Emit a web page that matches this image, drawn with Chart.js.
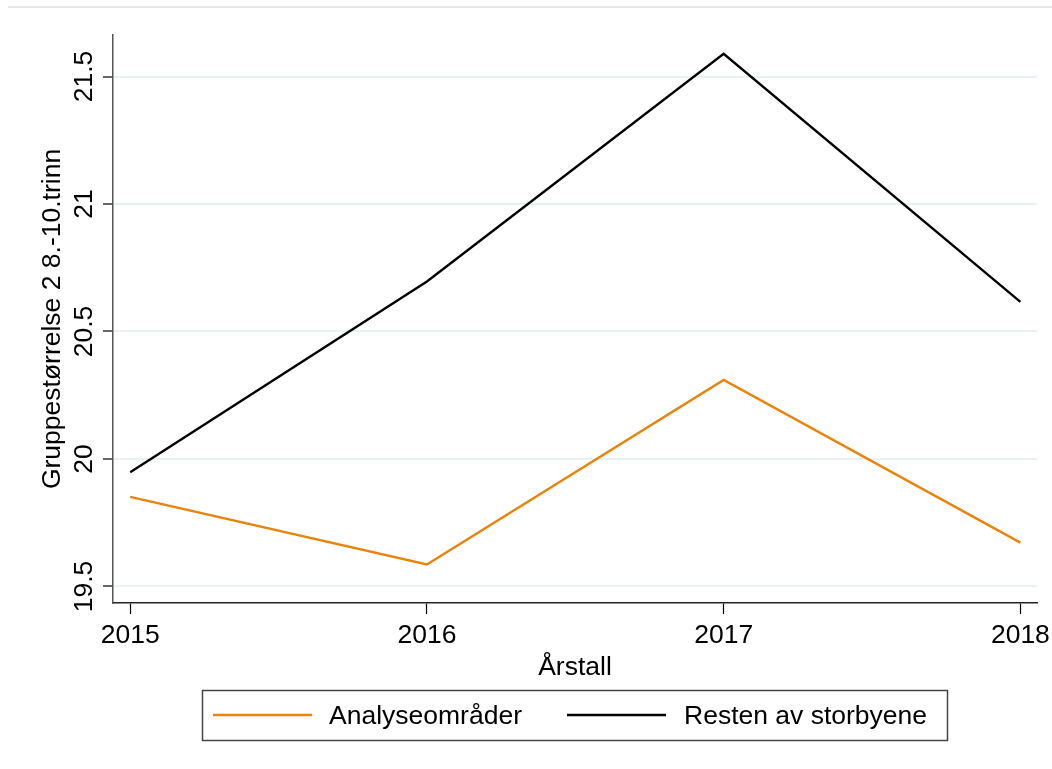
<!DOCTYPE html>
<html lang="no">
<head>
    <meta charset="UTF-8">
    <title>Gruppestørrelse 2 8.-10.trinn</title>
    <script src="https://cdn.jsdelivr.net/npm/chart.js"></script>
    <style>
        html, body { margin: 0; padding: 0; background: #fff; }
        .container { width: 1052px; height: 769px; }
    </style>
</head>
<body>
    <div class="container">
        <canvas id="myChart" width="1052" height="769"></canvas>
    </div>

    <script>
        const years = [2015, 2016, 2017, 2018];
        const analyseData = [19.851, 19.586, 20.31, 19.672];
        const restenData = [19.948, 20.696, 21.589, 20.616];
        const yTicks = [19.5, 20, 20.5, 21, 21.5];
        const seriesLabels = ['Analyseområder', 'Resten av storbyene'];

        const FONT = 'Liberation Sans, Arial, Helvetica, sans-serif';

        // rotated y tick labels, legend box and the faint top rule
        const extras = {
            id: 'extras',
            beforeDraw(chart) {
                const ctx = chart.ctx;
                ctx.save();
                ctx.strokeStyle = '#e6e6e6';
                ctx.lineWidth = 2;
                ctx.beginPath();
                ctx.moveTo(8, 7);
                ctx.lineTo(1052, 7);
                ctx.stroke();
                ctx.restore();
            },
            afterDraw(chart) {
                const ctx = chart.ctx;
                const y = chart.scales.y;
                ctx.save();
                ctx.font = '26.5px ' + FONT;
                ctx.fillStyle = '#000';
                ctx.textAlign = 'center';
                ctx.textBaseline = 'alphabetic';
                yTicks.forEach(v => {
                    ctx.save();
                    ctx.translate(92, y.getPixelForValue(v));
                    ctx.rotate(-Math.PI / 2);
                    ctx.fillText(String(v), 0, 0);
                    ctx.restore();
                });

                // legend
                ctx.strokeStyle = '#444';
                ctx.lineWidth = 1.5;
                ctx.strokeRect(202.5, 690.5, 745, 50);
                const items = [
                    { x1: 213, x2: 312, tx: 329 },
                    { x1: 567, x2: 666, tx: 684 }
                ];
                chart.data.datasets.forEach((ds, i) => {
                    const it = items[i];
                    ctx.strokeStyle = ds.borderColor;
                    ctx.lineWidth = ds.borderWidth;
                    ctx.beginPath();
                    ctx.moveTo(it.x1, 715);
                    ctx.lineTo(it.x2, 715);
                    ctx.stroke();
                    ctx.fillStyle = '#000';
                    ctx.textAlign = 'left';
                    ctx.fillText(ds.label, it.tx, 724);
                });
                ctx.restore();
            }
        };

        const ctx = document.getElementById('myChart').getContext('2d');
        const chart = new Chart(ctx, {
            type: 'line',
            data: {
                datasets: [{
                    label: seriesLabels[0],
                    data: years.map((yr, i) => ({ x: yr, y: analyseData[i] })),
                    borderColor: '#e8830c',
                    borderWidth: 2.4,
                    pointRadius: 0,
                    tension: 0
                }, {
                    label: seriesLabels[1],
                    data: years.map((yr, i) => ({ x: yr, y: restenData[i] })),
                    borderColor: '#000000',
                    borderWidth: 2.4,
                    pointRadius: 0,
                    tension: 0
                }]
            },
            options: {
                responsive: false,
                animation: false,
                events: [],
                layout: { padding: { left: 0, top: 35, right: 15, bottom: 0 } },
                plugins: {
                    legend: { display: false },
                    tooltip: { enabled: false }
                },
                scales: {
                    x: {
                        type: 'linear',
                        min: 2014.942,
                        max: 2018.056,
                        afterBuildTicks: s => { s.ticks = years.map(v => ({ value: v })); },
                        afterFit: s => { s.height = 166; s.paddingLeft = 0; s.paddingRight = 0; },
                        ticks: {
                            color: '#000',
                            font: { family: FONT, size: 26.5 },
                            padding: 6,
                            maxRotation: 0,
                            callback: v => String(v)
                        },
                        grid: {
                            drawOnChartArea: false,
                            tickLength: 11,
                            tickColor: '#000',
                            tickWidth: 1.2
                        },
                        border: { color: '#222', width: 1.5 },
                        title: {
                            display: true,
                            text: 'Årstall',
                            color: '#000',
                            font: { family: FONT, size: 26.5 },
                            padding: { top: 0, bottom: 85 }
                        }
                    },
                    y: {
                        min: 19.435,
                        max: 21.663,
                        afterBuildTicks: s => { s.ticks = yTicks.map(v => ({ value: v })); },
                        afterFit: s => { s.width = 113; },
                        ticks: { display: false },
                        grid: {
                            color: '#e9f1f2',
                            lineWidth: 2,
                            tickLength: 10,
                            tickColor: '#000',
                            tickWidth: 1.2
                        },
                        border: { color: '#555', width: 1.5 },
                        title: {
                            display: true,
                            text: 'Gruppestørrelse 2 8.-10.trinn',
                            color: '#000',
                            font: { family: FONT, size: 26.5 },
                            padding: { top: 37, bottom: 0 }
                        }
                    }
                }
            },
            plugins: [extras]
        });
    </script>
</body>
</html>
